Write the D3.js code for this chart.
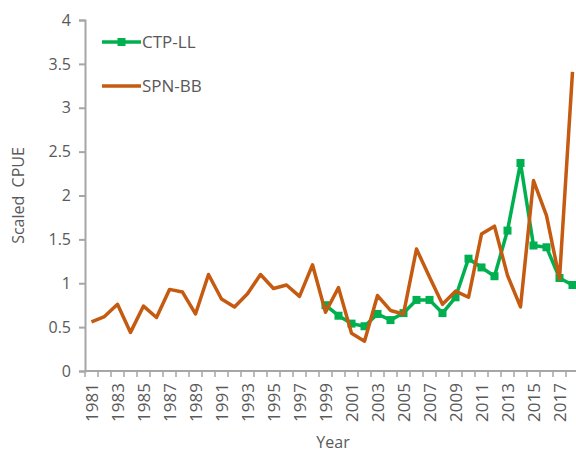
<!DOCTYPE html>
<html>
<head>
<meta charset="utf-8">
<script src="https://cdn.jsdelivr.net/npm/d3@7"></script>
<style>
  body { margin: 0; background: #fff; }
  text { font-family: "Open Sans", "Liberation Sans", sans-serif; fill: #595959; }
</style>
</head>
<body>
<div id="chart"></div>
<script>
// data
var years = d3.range(1981, 2019);
var spnYears = years;
var spnValues = [0.56, 0.62, 0.76, 0.44, 0.74, 0.61, 0.93, 0.90, 0.65, 1.10,
  0.82, 0.73, 0.88, 1.10, 0.94, 0.98, 0.85, 1.21, 0.67, 0.95,
  0.43, 0.34, 0.86, 0.69, 0.65, 1.39, 1.07, 0.76, 0.91, 0.84,
  1.56, 1.65, 1.09, 0.73, 2.17, 1.77, 1.05, 3.41];
var ctpYears = d3.range(1999, 2019);
var ctpValues = [0.75, 0.63, 0.54, 0.51, 0.65, 0.58, 0.66, 0.81, 0.81, 0.66,
  0.84, 1.28, 1.18, 1.08, 1.60, 2.37, 1.43, 1.41, 1.06, 0.98];
var yTicks = [0, 0.5, 1, 1.5, 2, 2.5, 3, 3.5, 4];
var seriesNames = ["CTP-LL", "SPN-BB"];
var seriesColors = ["#00b050", "#c55a11"];

var svgWidth = 576;
var svgHeight = 454;

var margin = { top: 20, right: -3, bottom: 83, left: 85 };
var width = svgWidth - margin.left - margin.right;
var height = svgHeight - margin.top - margin.bottom;

var svg = d3.select("#chart")
  .append("svg")
  .attr("width", svgWidth)
  .attr("height", svgHeight);

var chartGroup = svg.append("g")
  .attr("transform", `translate(${margin.left}, ${margin.top})`);

var xBand = d3.scaleBand()
  .domain(years)
  .range([0, width]);

var yScale = d3.scaleLinear()
  .domain([0, 4])
  .range([height, 0]);

var xPos = d => xBand(d) + xBand.bandwidth() / 2;

// y axis
var leftAxis = d3.axisLeft(yScale)
  .tickValues(yTicks)
  .tickSize(6)
  .tickPadding(8)
  .tickFormat(d3.format("~g"));

var yAxis = chartGroup.append("g").call(leftAxis);
yAxis.select(".domain").attr("stroke", "#a6a6a6").attr("stroke-width", 2);
yAxis.selectAll(".tick line").attr("stroke", "#a6a6a6").attr("stroke-width", 2);
yAxis.selectAll(".tick text")
  .attr("fill", "#595959")
  .style("font-size", "16px");

// x axis: ticks at category boundaries, labels every other year
var xAxis = chartGroup.append("g")
  .attr("transform", `translate(0, ${height})`);

xAxis.append("line")
  .attr("x1", 0)
  .attr("x2", width)
  .attr("stroke", "#a6a6a6")
  .attr("stroke-width", 2);

xAxis.selectAll("line.tk")
  .data(years.concat([2019]))
  .enter()
  .append("line")
  .attr("class", "tk")
  .attr("x1", d => d === 2019 ? width : xBand(d))
  .attr("x2", d => d === 2019 ? width : xBand(d))
  .attr("y1", 0)
  .attr("y2", 6)
  .attr("stroke", "#a6a6a6")
  .attr("stroke-width", 1.5);

xAxis.selectAll("text")
  .data(years.filter(d => (d - 1981) % 2 === 0))
  .enter()
  .append("text")
  .attr("transform", d => `translate(${xPos(d) + 6}, 12) rotate(-90)`)
  .attr("text-anchor", "end")
  .style("font-size", "17px")
  .text(d => d);

// axis titles
chartGroup.append("text")
  .attr("transform", `translate(-61, ${yScale(2)}) rotate(-90)`)
  .attr("text-anchor", "middle")
  .style("font-size", "16px")
  .style("white-space", "pre")
  .text("Scaled  CPUE");

svg.append("text")
  .attr("x", 333)
  .attr("y", 448)
  .attr("text-anchor", "middle")
  .style("font-size", "16px")
  .text("Year");

// lines
var line = d3.line()
  .x(d => xPos(d[0]))
  .y(d => yScale(d[1]));

var ctpData = ctpYears.map((y, i) => [y, ctpValues[i]]);
var spnData = spnYears.map((y, i) => [y, spnValues[i]]);

chartGroup.append("path")
  .datum(ctpData)
  .attr("d", line)
  .attr("fill", "none")
  .attr("stroke", seriesColors[0])
  .attr("stroke-width", 3.5)
  .attr("stroke-linejoin", "round");

chartGroup.selectAll("rect.ctp")
  .data(ctpData)
  .enter()
  .append("rect")
  .attr("class", "ctp")
  .attr("x", d => xPos(d[0]) - 4)
  .attr("y", d => yScale(d[1]) - 4)
  .attr("width", 8)
  .attr("height", 8)
  .attr("fill", seriesColors[0]);

chartGroup.append("path")
  .datum(spnData)
  .attr("d", line)
  .attr("fill", "none")
  .attr("stroke", seriesColors[1])
  .attr("stroke-width", 3.5)
  .attr("stroke-linejoin", "round");

// legend
var legend = svg.append("g");
seriesNames.forEach(function (name, i) {
  var ly = 42 + i * 44;
  legend.append("line")
    .attr("x1", 102)
    .attr("x2", 141)
    .attr("y1", ly)
    .attr("y2", ly)
    .attr("stroke", seriesColors[i])
    .attr("stroke-width", 3.5);
  if (i === 0) {
    legend.append("rect")
      .attr("x", 117.5)
      .attr("y", ly - 4)
      .attr("width", 8)
      .attr("height", 8)
      .attr("fill", seriesColors[i]);
  }
  legend.append("text")
    .attr("x", 142)
    .attr("y", ly + 6)
    .style("font-size", "17px")
    .text(name);
});
</script>
</body>
</html>
